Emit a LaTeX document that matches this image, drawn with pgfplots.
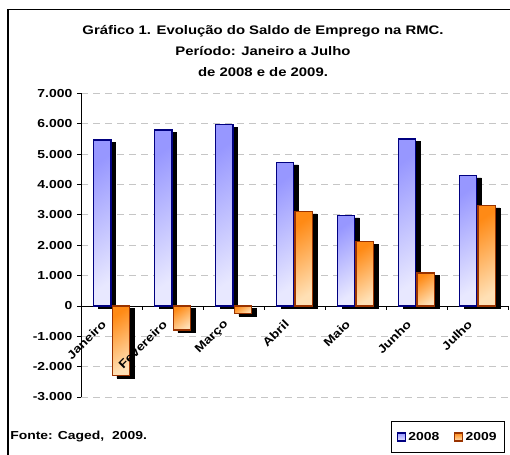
\documentclass[border=0pt]{standalone}
\usepackage{pgfplots}
\usepackage{pgfplotstable}
\pgfplotsset{compat=1.18}
\usepackage{fontspec}
\setmainfont[FakeStretch=1.2]{Liberation Sans}
\definecolor{bluedark}{HTML}{000080}
\definecolor{bluetop}{HTML}{9797FF}
\definecolor{bluebot}{HTML}{E8E8FF}
\definecolor{orline}{HTML}{993300}
\definecolor{ortop}{HTML}{FF8A15}
\definecolor{orbot}{HTML}{FFE0B5}
\pgfplotstableread{
x y2008 y2009
0 5460 -2300
1 5800 -790
2 5975 -250
3 4730 3110
4 2980 2120
5 5500 1090
6 4300 3310
}\data
\pgfplotsset{
  bluebar/.style={forget plot, draw=bluedark, line width=1.1pt, top color=bluetop, bottom color=bluebot, shading angle=35, bar shift=-6.95pt},
  orbar/.style={forget plot, draw=orline, line width=1.1pt, top color=ortop, bottom color=orbot, shading angle=35, bar shift=6.95pt},
}
\newcommand{\lbl}{\bfseries\fontsize{8.7}{10}\selectfont}
\tikzset{catlbl/.style={xshift=-8pt, yshift=-5pt, rotate=45, anchor=north east, font=\lbl}}
\begin{document}
\begin{tikzpicture}
\begin{axis}[
  at={(60.75pt,42.75pt)}, anchor=south west,
  scale only axis, width=320.25pt, height=227.625pt,
  xmin=-0.5, xmax=6.5, ymin=-3000, ymax=7000,
  ybar=0pt, bar width=12.8pt, clip=false,
  axis x line*=middle, axis y line*=left,
  axis line style={black, line width=0.6pt},
  xtick={-0.5,0.5,...,6.5}, xticklabels={},
  ytick={-3000,-2000,...,7000},
  yticklabels={-3.000,-2.000,-1.000,0,1.000,2.000,3.000,4.000,5.000,6.000,7.000},
  y tick label style={font=\lbl},
  tick align=outside, major tick length=3pt,
  tick style={black, line width=0.6pt},
  ymajorgrids, grid style={gray!45, line width=0.6pt, dash pattern=on 5.5pt off 3.5pt},
  legend style={at={(axis description cs:0.8595,-0.1318)}, anchor=center,
    draw=black, line width=0.8pt, font=\lbl, legend columns=2,
    inner xsep=4pt, inner ysep=5.5pt,
    /tikz/every even column/.append style={column sep=9pt}},
  legend image code/.code={\draw[#1, line width=0.8pt] (0pt,-3pt) rectangle (6pt,3pt);},
]
\addplot[forget plot, fill=black, draw=black, bar shift=-6.95pt, xshift=3.4pt, yshift=-1.8pt] table[x=x,y=y2008]{\data};
\addplot[forget plot, fill=black, draw=black, bar shift=6.95pt, xshift=3.4pt, yshift=-1.8pt] table[x=x,y=y2009]{\data};
% 2008
\addplot[bluebar] coordinates {(0,5460)};
\addplot[bluebar] coordinates {(1,5800)};
\addplot[bluebar] coordinates {(2,5975)};
\addplot[bluebar] coordinates {(3,4730)};
\addplot[bluebar] coordinates {(4,2980)};
\addplot[bluebar] coordinates {(5,5500)};
\addplot[bluebar] coordinates {(6,4300)};
% 2009
\addplot[orbar] coordinates {(0,-2300)};
\addplot[orbar] coordinates {(1,-790)};
\addplot[orbar] coordinates {(2,-250)};
\addplot[orbar] coordinates {(3,3110)};
\addplot[orbar] coordinates {(4,2120)};
\addplot[orbar] coordinates {(5,1090)};
\addplot[orbar] coordinates {(6,3310)};
\addlegendimage{draw=bluedark, top color=bluetop, bottom color=bluebot}
\addlegendentry{2008}
\addlegendimage{draw=orline, top color=ortop, bottom color=orbot}
\addlegendentry{2009}
\node[catlbl] at (axis cs:0,0) {Janeiro};
\node[catlbl] at (axis cs:1,0) {Fevereiro};
\node[catlbl] at (axis cs:2,0) {Março};
\node[catlbl] at (axis cs:3,0) {Abril};
\node[catlbl] at (axis cs:4,0) {Maio};
\node[catlbl] at (axis cs:5,0) {Junho};
\node[catlbl] at (axis cs:6,0) {Julho};
\end{axis}
\node[align=center, font=\bfseries\fontsize{9.3}{16.1}\selectfont] at (197.25pt,302.25pt)
  {Gráfico 1. Evolução do Saldo de Emprego na RMC.\\Período: Janeiro a Julho\\de 2008 e de 2009.};
\node[anchor=west, font=\lbl, inner sep=0pt] at (7.5pt,12.75pt) {Fonte: Caged,\ \ 2009.};
\draw[black, line width=1.1pt] (6pt,-5pt) -- (6pt,333.4pt) -- (400pt,333.4pt);
\pgfresetboundingbox
\useasboundingbox (0,0) rectangle (382.5pt,340.5pt);
\end{tikzpicture}
\end{document}
